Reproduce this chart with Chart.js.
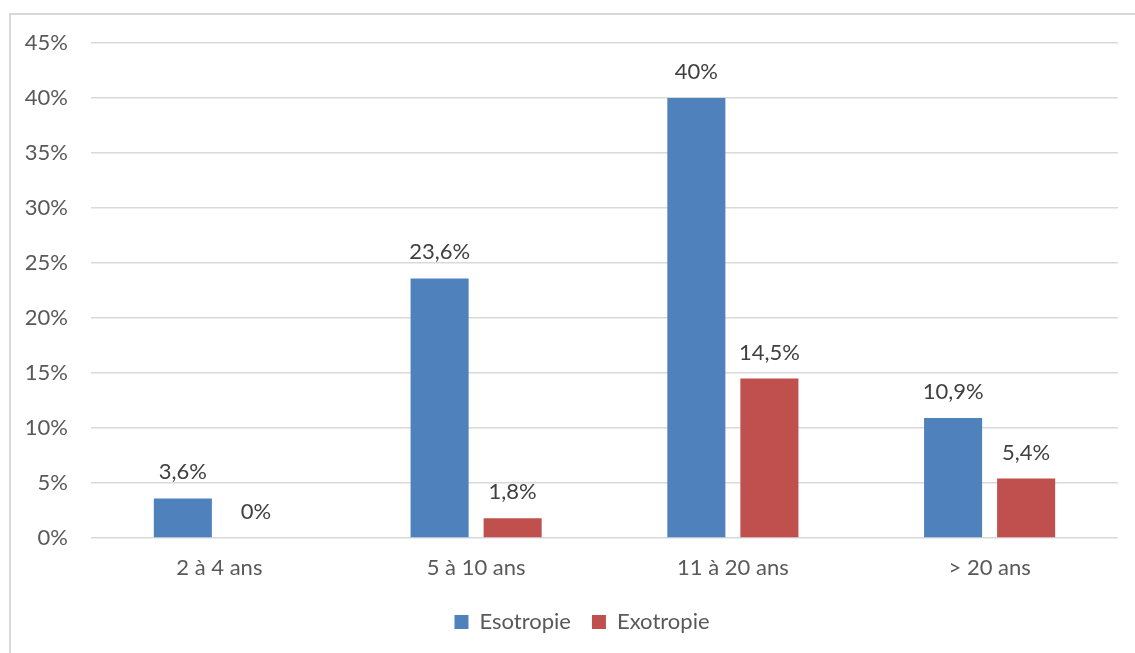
<!DOCTYPE html>
<html>
<head>
<meta charset="utf-8">
<script src="https://cdn.jsdelivr.net/npm/chart.js@4"></script>
<style>
  html, body { margin: 0; padding: 0; background: #fff; overflow: hidden; }
  #frame { position: absolute; left: 9px; top: 13px; width: 1140px; height: 660px; border: 2px solid #d9d9d9; box-sizing: border-box; }
  #wrap { position: absolute; left: 0; top: 0; width: 1135px; height: 653px; }
</style>
</head>
<body>
<div id="frame"></div>
<div id="wrap"><canvas id="ageChart" width="1135" height="653"></canvas></div>
<script>
// Age groups and share of each strabismus type (%)
const categories = ['2 à 4 ans', '5 à 10 ans', '11 à 20 ans', '> 20 ans'];
const esotropie = [3.6, 23.6, 40, 10.9];
const exotropie = [0, 1.8, 14.5, 5.4];
const yTicks = [0, 5, 10, 15, 20, 25, 30, 35, 40, 45];

const fontFamily = 'Lato, "Open Sans", sans-serif';

function pct(v) {
  return String(v).replace('.', ',') + '%';
}

// value labels above each bar
const barLabels = {
  id: 'barLabels',
  afterDatasetsDraw(chart) {
    const ctx = chart.ctx;
    ctx.save();
    ctx.font = '22px ' + fontFamily;
    ctx.fillStyle = '#404040';
    ctx.textAlign = 'center';
    ctx.textBaseline = 'middle';
    chart.data.datasets.forEach((ds, i) => {
      chart.getDatasetMeta(i).data.forEach((bar, j) => {
        ctx.fillText(pct(ds.data[j]), bar.x, bar.y - 26);
      });
    });
    ctx.restore();
  }
};

// legend sits a bit right of the canvas centre
const legendShift = {
  id: 'legendShift',
  afterLayout(chart) {
    chart.legend.left += 46;
    chart.legend.width -= 46;
  }
};

Chart.defaults.font.family = fontFamily;
Chart.defaults.font.size = 22;
Chart.defaults.color = '#595959';

new Chart(document.getElementById('ageChart').getContext('2d'), {
  type: 'bar',
  data: {
    labels: categories,
    datasets: [
      { label: 'Esotropie', data: esotropie, backgroundColor: '#4F81BD' },
      { label: 'Exotropie', data: exotropie, backgroundColor: '#C0504D' }
    ]
  },
  options: {
    responsive: false,
    animation: false,
    categoryPercentage: 0.569,
    barPercentage: 0.795,
    layout: { padding: { left: 0, top: 43, right: 17, bottom: 10 } },
    scales: {
      x: {
        grid: { display: false },
        border: { display: false },
        ticks: { padding: 9 },
        afterFit(scale) { scale.height = 52; }
      },
      y: {
        min: 0,
        max: 45,
        afterBuildTicks(scale) { scale.ticks = yTicks.map(v => ({ value: v })); },
        ticks: { padding: 23, callback: v => v + '%' },
        grid: { color: '#d9d9d9', lineWidth: 1.5, drawTicks: false },
        border: { display: false },
        afterFit(scale) { scale.width = 91; }
      }
    },
    plugins: {
      legend: {
        position: 'bottom',
        labels: { boxWidth: 14, boxHeight: 14, padding: 21, color: '#595959' }
      },
      tooltip: { enabled: false }
    }
  },
  plugins: [barLabels, legendShift]
});
</script>
</body>
</html>
